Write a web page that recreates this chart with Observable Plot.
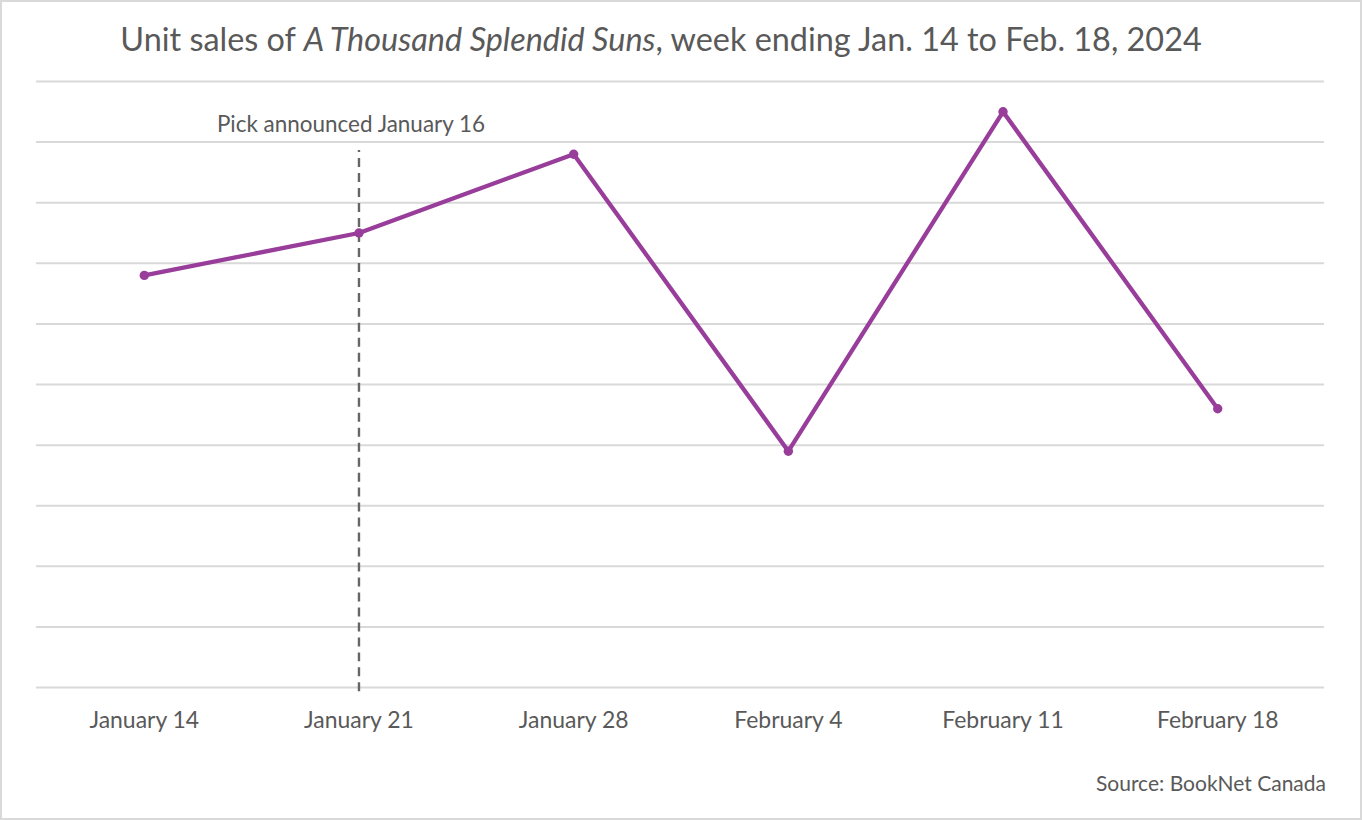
<!DOCTYPE html>
<html>
<head>
<meta charset="utf-8">
<script src="https://cdn.jsdelivr.net/npm/d3@7"></script>
<script src="https://cdn.jsdelivr.net/npm/@observablehq/plot@0.6"></script>
<style>
  html, body { margin: 0; padding: 0; background: #fff; }
  #frame { position: relative; width: 1358px; height: 816px; border: 2px solid #d9d9d9; box-sizing: content-box; font-family: Lato, "Open Sans", sans-serif; overflow: hidden; }
  #title { position: absolute; top: 18px; left: 0; width: 1318px; text-align: center; font-size: 32.4px; color: #595959; line-height: 38px; }
  #chart { position: absolute; top: 58px; left: -2px; }
  #source { position: absolute; top: 768px; right: 34px; font-size: 21px; color: #595959; line-height: 26px; }
</style>
</head>
<body>
<div id="frame">
  <div id="title">Unit sales of <i>A Thousand Splendid Suns</i>, week ending Jan. 14 to Feb. 18, 2024</div>
  <div id="chart"></div>
  <div id="source">Source: BookNet Canada</div>
</div>
<script>
const weeks = ["January 14", "January 21", "January 28", "February 4", "February 11", "February 18"];
const sales = [680, 750, 880, 390, 950, 460];
const gridValues = [0, 100, 200, 300, 400, 500, 600, 700, 800, 900, 1000];
const pickWeek = ["January 21"];
const pickTop = [886];
const pickLabel = ["Pick announced January 16"];
const pickLabelY = [928];

const data = weeks.map((w, i) => ({week: w, sales: sales[i]}));
const pick = pickWeek.map((w, i) => ({week: w, top: pickTop[i], label: pickLabel[i], ly: pickLabelY[i]}));

const purple = "#993d9b";

const chart = Plot.plot({
  width: 1362,
  height: 700,
  marginTop: 21,
  marginBottom: 72,
  marginLeft: 36,
  marginRight: 36,
  style: {fontFamily: "Lato, 'Open Sans', sans-serif", background: "transparent"},
  x: {domain: weeks, type: "point", padding: 0.5, label: null, tickSize: 0, tickPadding: 24},
  y: {domain: [0, 1000], axis: null},
  marks: [
    Plot.ruleY(gridValues, {stroke: "#d9d9d9", strokeWidth: 2}),
    Plot.ruleX(pick, {x: "week", y1: -7, y2: "top", stroke: "#666666", strokeWidth: 2.4, strokeDasharray: "9,6"}),
    Plot.text(pick, {x: "week", y: "ly", text: "label", dx: -8, fontSize: 22.5, fill: "#595959"}),
    Plot.line(data, {x: "week", y: "sales", stroke: purple, strokeWidth: 4.3, strokeLinejoin: "round"}),
    Plot.dot(data, {x: "week", y: "sales", r: 4.7, fill: purple}),
    Plot.axisX({tickSize: 0, tickPadding: 24, fontSize: 23, color: "#595959", label: null})
  ]
});
chart.querySelectorAll("[aria-label='x-axis tick label'] text").forEach(t => t.setAttribute("fill", "#595959"));
document.getElementById("chart").appendChild(chart);
</script>
</body>
</html>
